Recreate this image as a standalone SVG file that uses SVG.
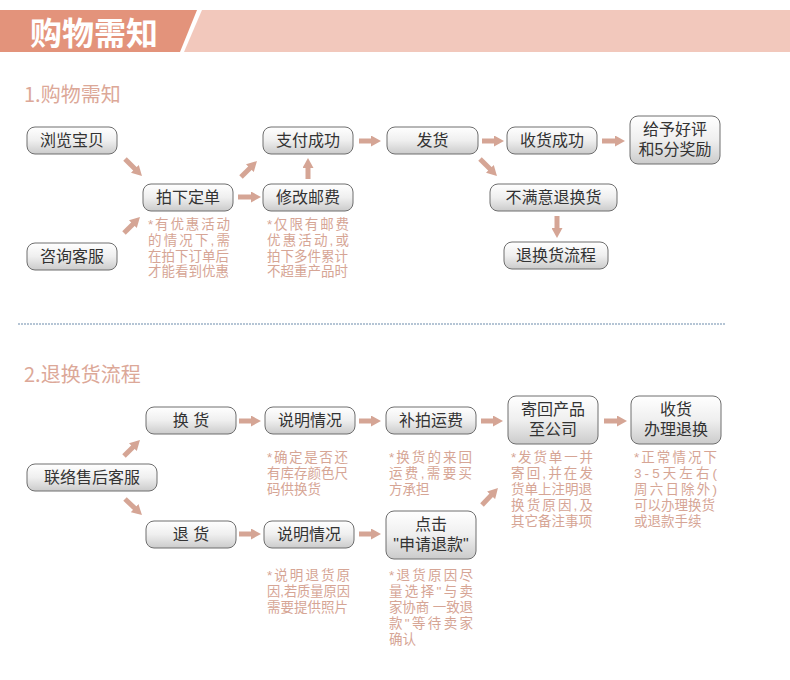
<svg xmlns="http://www.w3.org/2000/svg" width="790" height="680" viewBox="0 0 790 680">
<defs>
<linearGradient id="g" x1="0" y1="0" x2="0" y2="1">
<stop offset="0" stop-color="#ffffff"/>
<stop offset="0.5" stop-color="#efefef"/>
<stop offset="1" stop-color="#cbcbcb"/>
</linearGradient>
<marker id="ah" markerUnits="userSpaceOnUse" markerWidth="10" markerHeight="11" viewBox="0 0 10 11" refX="1" refY="5.5" orient="auto">
<path d="M0,0 L10,5.5 L0,11 Z" fill="#D5A595"/>
</marker>
<style>
.node rect{fill:url(#g);stroke:#6e6e6e;stroke-width:1}
.nt{font-family:"Liberation Sans","Noto Sans CJK SC",sans-serif;font-size:16px;fill:#333;text-anchor:middle}
.note{font-family:"Liberation Sans","Noto Sans CJK SC",sans-serif;font-size:13.5px;fill:#D6A595}
.sec{font-family:"Noto Sans CJK SC","Noto Sans",sans-serif;font-size:20px;fill:#DCA898}
#conn line{stroke:#D5A595;stroke-width:5;marker-end:url(#ah)}
</style>
</defs>
<rect width="790" height="680" fill="#ffffff"/>
<g id="header">
<polygon points="0,10 197,10 180,52 0,52" fill="#E3937B"/>
<polygon points="202,10 790,10 790,52 184,52" fill="#F2C8BC"/>
<text x="30" y="45" font-family="'Noto Sans CJK SC','Noto Sans',sans-serif" font-size="32" font-weight="700" fill="#ffffff">购物需知</text>
</g>
<text class="sec" x="24" y="102">1.购物需知</text>
<text class="sec" x="24" y="382">2.退换货流程</text>
<line id="divider" x1="18" y1="324" x2="725" y2="324" stroke="#9DB3C8" stroke-width="1.5" stroke-dasharray="2 1"/>

<g id="conn">
<line x1="125" y1="159" x2="135.6" y2="169.6"/>
<line x1="124" y1="233" x2="133.6" y2="223.4"/>
<line x1="241" y1="177" x2="250.6" y2="167.4"/>
<line x1="238" y1="197" x2="252" y2="197"/>
<line x1="308" y1="179" x2="308" y2="167"/>
<line x1="359" y1="141" x2="372" y2="141"/>
<line x1="482" y1="141" x2="495" y2="141"/>
<line x1="602" y1="141" x2="616" y2="141"/>
<line x1="480" y1="159" x2="490.6" y2="169.6"/>
<line x1="557" y1="216" x2="557" y2="229"/>
<line x1="124" y1="456" x2="133.6" y2="446.4"/>
<line x1="125" y1="499" x2="135.4" y2="508.8"/>
<line x1="239" y1="421" x2="252" y2="421"/>
<line x1="359" y1="421" x2="372" y2="421"/>
<line x1="481" y1="421" x2="494" y2="421"/>
<line x1="604" y1="421" x2="618" y2="421"/>
<line x1="239" y1="534" x2="252" y2="534"/>
<line x1="359" y1="534" x2="372" y2="534"/>
<line x1="482" y1="505" x2="491.8" y2="494.6"/>
</g>

<g id="n-browse" class="node"><rect x="27" y="127" width="90" height="27" rx="8"/><text class="nt" x="72" y="146">浏览宝贝</text></g>
<g id="n-order" class="node"><rect x="143" y="184" width="90" height="27" rx="8"/><text class="nt" x="188" y="203">拍下定单</text></g>
<g id="n-pay" class="node"><rect x="263" y="127" width="90" height="27" rx="8"/><text class="nt" x="308" y="146">支付成功</text></g>
<g id="n-postage" class="node"><rect x="263" y="184" width="90" height="27" rx="8"/><text class="nt" x="308" y="203">修改邮费</text></g>
<g id="n-consult" class="node"><rect x="27" y="243" width="90" height="27" rx="8"/><text class="nt" x="72" y="262">咨询客服</text></g>
<g id="n-ship" class="node"><rect x="387" y="127" width="91" height="27" rx="8"/><text class="nt" x="432.5" y="146">发货</text></g>
<g id="n-recv" class="node"><rect x="507" y="127" width="90" height="27" rx="8"/><text class="nt" x="552" y="146">收货成功</text></g>
<g id="n-review" class="node"><rect x="630" y="116" width="90" height="48" rx="8"/><text class="nt" x="675" y="135">给予好评</text><text class="nt" x="675" y="154.5">和5分奖励</text></g>
<g id="n-unsat" class="node"><rect x="490" y="184" width="127" height="27" rx="8"/><text class="nt" x="553.5" y="203">不满意退换货</text></g>
<g id="n-return" class="node"><rect x="504" y="242" width="104" height="27" rx="8"/><text class="nt" x="556" y="261">退换货流程</text></g>

<g id="n-contact" class="node"><rect x="27" y="464" width="130" height="27" rx="8"/><text class="nt" x="92" y="483">联络售后客服</text></g>
<g id="n-exchange" class="node"><rect x="146" y="407" width="90" height="27" rx="8"/><text class="nt" x="191" y="426">换 货</text></g>
<g id="n-explain1" class="node"><rect x="265" y="407" width="90" height="27" rx="8"/><text class="nt" x="310" y="426">说明情况</text></g>
<g id="n-fee" class="node"><rect x="386" y="407" width="90" height="27" rx="8"/><text class="nt" x="431" y="426">补拍运费</text></g>
<g id="n-sendback" class="node"><rect x="508" y="396" width="90" height="48" rx="8"/><text class="nt" x="553" y="415">寄回产品</text><text class="nt" x="553" y="434.5">至公司</text></g>
<g id="n-done" class="node"><rect x="631" y="396" width="90" height="48" rx="8"/><text class="nt" x="676" y="415">收货</text><text class="nt" x="676" y="434.5">办理退换</text></g>
<g id="n-refund" class="node"><rect x="146" y="521" width="90" height="27" rx="8"/><text class="nt" x="191" y="540">退 货</text></g>
<g id="n-explain2" class="node"><rect x="264" y="521" width="90" height="27" rx="8"/><text class="nt" x="309" y="540">说明情况</text></g>
<g id="n-apply" class="node"><rect x="386" y="511" width="90" height="48" rx="8"/><text class="nt" x="431" y="530">点击</text><text class="nt" x="431" y="549.5">&quot;申请退款&quot;</text></g>

<g id="notes">
<text class="note" x="148" y="229" textLength="82" lengthAdjust="spacing">*有优惠活动</text>
<text class="note" x="148" y="244.8" textLength="82" lengthAdjust="spacing">的情况下,需</text>
<text class="note" x="148" y="260.6">在拍下订单后</text>
<text class="note" x="148" y="276.4">才能看到优惠</text>

<text class="note" x="267" y="229" textLength="82" lengthAdjust="spacing">*仅限有邮费</text>
<text class="note" x="267" y="244.8" textLength="82" lengthAdjust="spacing">优惠活动,或</text>
<text class="note" x="267" y="260.6">拍下多件累计</text>
<text class="note" x="267" y="276.4">不超重产品时</text>

<text class="note" x="267" y="462" textLength="81" lengthAdjust="spacing">*确定是否还</text>
<text class="note" x="267" y="478">有库存颜色尺</text>
<text class="note" x="267" y="494">码供换货</text>

<text class="note" x="389" y="462" textLength="83" lengthAdjust="spacing">*换货的来回</text>
<text class="note" x="389" y="478" textLength="83" lengthAdjust="spacing">运费,需要买</text>
<text class="note" x="389" y="494">方承担</text>

<text class="note" x="511" y="462" textLength="82" lengthAdjust="spacing">*发货单一并</text>
<text class="note" x="511" y="478" textLength="82" lengthAdjust="spacing">寄回,并在发</text>
<text class="note" x="511" y="494">货单上注明退</text>
<text class="note" x="511" y="510" textLength="82" lengthAdjust="spacing">换货原因,及</text>
<text class="note" x="511" y="526">其它备注事项</text>

<text class="note" x="634" y="462" textLength="83" lengthAdjust="spacing">*正常情况下</text>
<text class="note" x="634" y="478" textLength="83" lengthAdjust="spacing">3-5天左右(</text>
<text class="note" x="634" y="494" textLength="83" lengthAdjust="spacing">周六日除外)</text>
<text class="note" x="634" y="510">可以办理换货</text>
<text class="note" x="634" y="526">或退款手续</text>

<text class="note" x="267" y="580" textLength="83" lengthAdjust="spacing">*说明退货原</text>
<text class="note" x="267" y="596" textLength="83" lengthAdjust="spacingAndGlyphs">因,若质量原因</text>
<text class="note" x="267" y="612">需要提供照片</text>

<text class="note" x="389" y="580" textLength="84" lengthAdjust="spacing">*退货原因尽</text>
<text class="note" x="389" y="596" textLength="84" lengthAdjust="spacing">量选择&quot;与卖</text>
<text class="note" x="389" y="612" textLength="84" lengthAdjust="spacing">家协商 一致退</text>
<text class="note" x="389" y="628" textLength="84" lengthAdjust="spacing">款&quot;等待卖家</text>
<text class="note" x="389" y="644">确认</text>
</g>
</svg>
